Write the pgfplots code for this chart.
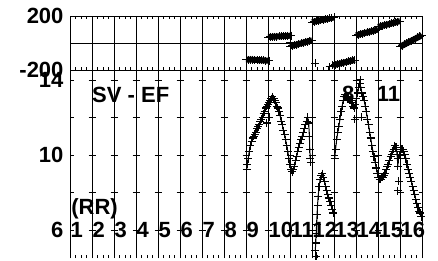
\documentclass[border=0pt]{standalone}
\usepackage{fontspec}
\setmainfont{Liberation Sans}
\usepackage{pgfplots}
\pgfplotsset{compat=1.18}
\newcommand{\bigf}{\bfseries\fontsize{22}{22}\selectfont}
\tikzset{
  curve/.style={black, line width=1pt, mark=+, mark size=4pt, mark options={line width=1.1pt, solid}},
  band/.style={black, line width=6pt, mark=+, mark size=4pt, mark options={line width=1pt, solid}},
}
\begin{document}
\begin{tikzpicture}[x=1pt,y=1pt]
\path[use as bounding box] (0,0) rectangle (438,260);
% ---------------- bottom panel ----------------
\begin{axis}[
  at={(70pt,2pt)}, anchor=south west, scale only axis,
  width=352pt, height=187.5pt,
  xmin=0, xmax=16, ymin=4.5, ymax=14.5,
  xtick={0,...,16}, xticklabels={}, minor x tick num=3,
  ytick={6,8,10,12,14}, yticklabels={6,,10,,14},
  xmajorgrids, ymajorgrids,
  major x grid style={black, line width=0.6pt},
  major y grid style={black, line width=0.6pt, dash pattern=on 7pt off 15pt, dash phase=3.5pt},
  axis line style={draw=none},
  xtick pos=lower, tick align=inside,
  x tick style={black, line width=0.5pt},
  y tick style={draw=none},
  major tick length=3pt, minor tick length=3pt,
  ticklabel style={font=\bigf},
  yticklabel style={xshift=-3pt},
  /pgf/number format/assume math mode=true,
  clip=false,
]
\addplot[curve] coordinates {
(8.03,9.2)(8.06,9.5)(8.1,9.8)(8.15,10.2)(8.2,10.5)(8.25,10.7)(8.3,10.9)(8.35,11.0)(8.4,11.1)(8.45,11.2)
(8.5,11.4)(8.55,11.5)(8.6,11.6)(8.65,11.8)(8.7,11.9)(8.75,12.0)(8.8,12.2)(8.85,12.3)(8.9,12.5)(8.95,12.6)
(9.0,12.7)(9.05,12.8)(9.1,12.9)(9.15,13.0)(9.2,13.1)(9.25,13.0)(9.3,12.9)(9.35,12.8)(9.4,12.6)(9.45,12.5)
(9.5,12.3)(9.55,12.1)(9.6,11.8)(9.65,11.6)(9.7,11.3)(9.75,11.1)(9.8,10.8)(9.85,10.5)(9.9,10.2)(9.95,9.8)
(10.0,9.5)(10.05,9.2)(10.1,9.1)(10.15,9.2)(10.2,9.4)(10.25,9.7)(10.3,9.9)(10.35,10.2)(10.4,10.4)(10.45,10.6)
(10.5,10.8)(10.55,11.0)(10.6,11.2)(10.65,11.4)(10.7,11.6)(10.75,11.8)(10.8,12.0)(10.85,11.7)(10.88,11.0)(10.9,10.3)(10.92,9.8)
};
\addplot[curve] coordinates {
(11.15,4.9)(11.17,5.3)(11.19,5.8)(11.21,6.3)(11.23,6.8)(11.25,7.3)(11.28,7.8)(11.32,8.3)(11.37,8.7)(11.42,8.9)
(11.47,9.0)(11.52,8.8)(11.57,8.6)(11.62,8.3)(11.67,8.1)(11.72,7.9)(11.77,7.7)(11.82,7.5)(11.87,7.3)(11.92,7.1)(11.97,6.9)
};
\addplot[curve] coordinates {
(12.03,9.8)(12.07,10.3)(12.12,10.8)(12.17,11.2)(12.22,11.5)(12.27,11.9)(12.32,12.3)(12.37,12.6)(12.42,12.9)(12.47,13.1)
(12.52,13.2)(12.57,13.1)(12.62,13.0)(12.67,13.0)(12.72,12.9)(12.77,12.9)(12.82,12.8)(12.87,12.6)(12.92,12.5)(12.97,12.7)
(13.02,13.0)(13.07,13.3)(13.12,13.6)(13.17,13.8)(13.22,13.6)(13.27,13.3)(13.32,13.1)(13.37,12.9)(13.42,12.6)(13.47,12.3)
(13.52,11.9)(13.57,11.6)(13.62,11.2)(13.67,10.9)(13.72,10.5)(13.77,10.2)(13.82,9.9)(13.87,9.6)(13.92,9.3)(13.97,9.0)
(14.02,8.8)(14.07,8.7)(14.12,8.7)(14.17,8.8)(14.22,8.8)(14.27,8.9)(14.32,9.0)(14.37,9.2)(14.42,9.4)(14.47,9.5)
(14.52,9.7)(14.57,9.9)(14.62,10.0)(14.67,10.2)(14.72,10.3)(14.77,10.5)(14.82,10.4)(14.87,10.0)(14.9,9.4)(14.93,9.8)
(14.97,10.0)(15.02,10.2)(15.07,10.3)(15.12,10.3)(15.17,10.2)(15.22,10.0)(15.27,9.8)(15.32,9.5)(15.37,9.2)(15.42,9.0)
(15.47,8.8)(15.52,8.6)(15.57,8.3)(15.62,8.1)(15.67,7.9)(15.72,7.6)(15.77,7.4)(15.82,7.2)(15.87,7.0)(15.92,6.9)(15.97,6.7)
};
\addplot[curve, only marks] coordinates {
(8.95,11.7)(9.05,12.0)(10.95,9.6)(12.95,11.9)(13.2,14.0)(14.9,8.1)(14.95,8.6)(11.18,4.6)(13.25,12.0)
};
\node[anchor=west, inner sep=0pt, xshift=0.5pt, font=\bigf] at (axis cs:0,6) {1};
\node[anchor=west, inner sep=0pt, xshift=0.5pt, font=\bigf] at (axis cs:1,6) {2};
\node[anchor=west, inner sep=0pt, xshift=0.5pt, font=\bigf] at (axis cs:2,6) {3};
\node[anchor=west, inner sep=0pt, xshift=0.5pt, font=\bigf] at (axis cs:3,6) {4};
\node[anchor=west, inner sep=0pt, xshift=0.5pt, font=\bigf] at (axis cs:4,6) {5};
\node[anchor=west, inner sep=0pt, xshift=0.5pt, font=\bigf] at (axis cs:5,6) {6};
\node[anchor=west, inner sep=0pt, xshift=0.5pt, font=\bigf] at (axis cs:6,6) {7};
\node[anchor=west, inner sep=0pt, xshift=0.5pt, font=\bigf] at (axis cs:7,6) {8};
\node[anchor=west, inner sep=0pt, xshift=0.5pt, font=\bigf] at (axis cs:8,6) {9};
\node[anchor=west, inner sep=0pt, xshift=0.5pt, font=\bigf] at (axis cs:9,6) {10};
\node[anchor=west, inner sep=0pt, xshift=0.5pt, font=\bigf] at (axis cs:10,6) {11};
\node[anchor=west, inner sep=0pt, xshift=0.5pt, font=\bigf] at (axis cs:11,6) {12};
\node[anchor=west, inner sep=0pt, xshift=0.5pt, font=\bigf] at (axis cs:12,6) {13};
\node[anchor=west, inner sep=0pt, xshift=0.5pt, font=\bigf] at (axis cs:13,6) {14};
\node[anchor=west, inner sep=0pt, xshift=0.5pt, font=\bigf] at (axis cs:14,6) {15};
\node[anchor=west, inner sep=0pt, xshift=0.5pt, font=\bigf] at (axis cs:15,6) {16};
\node[anchor=base west, inner sep=0pt, font=\bigf] at (axis cs:1.0,12.77) {SV - EF};
\node[anchor=base west, inner sep=0pt, font=\bigf] at (axis cs:0.05,6.8) {(RR)};
\node[anchor=base west, inner sep=0pt, font=\bigf] at (axis cs:12.36,12.83) {8};
\node[anchor=base west, inner sep=0pt, font=\bigf] at (axis cs:13.94,12.83) {11};
\end{axis}
% ---------------- top panel ----------------
\begin{axis}[
  at={(70pt,190pt)}, anchor=south west, scale only axis,
  width=352pt, height=54pt,
  xmin=0, xmax=16, ymin=-200, ymax=200,
  xtick={0,...,16}, xticklabels={}, minor x tick num=3,
  ytick={-200,0,200}, yticklabels={-200,,200},
  xmajorgrids, ymajorgrids,
  major x grid style={black, line width=0.6pt},
  major y grid style={black, line width=0.6pt},
  axis line style={black, line width=0.7pt},
  tick align=inside,
  x tick style={black, line width=0.5pt},
  y tick style={draw=none},
  major tick length=3pt, minor tick length=3pt,
  ticklabel style={font=\bigf},
  yticklabel style={xshift=-3pt},
  /pgf/number format/assume math mode=true,
]
\addplot[band] coordinates {
(8.0,-122)(8.1,-123)(8.2,-124)(8.3,-124)(8.4,-125)(8.5,-126)(8.6,-127)(8.7,-128)(8.8,-129)(8.9,-130)(9.0,-131)(9.05,-132)};
\addplot[band] coordinates {
(9.0,44)(9.1,45)(9.2,46)(9.3,47)(9.4,48)(9.5,49)(9.6,50)(9.7,51)(9.8,52)(9.9,53)(10.0,54)(10.05,54)};
\addplot[band] coordinates {
(10.0,-24)(10.1,-20)(10.2,-16)(10.3,-12)(10.4,-7)(10.5,-3)(10.6,2)(10.7,7)(10.8,11)(10.9,16)(11.0,20)};
\addplot[band] coordinates {
(11.0,155)(11.1,158)(11.2,162)(11.3,165)(11.4,169)(11.5,172)(11.6,176)(11.7,179)(11.8,183)(11.9,186)(12.0,190)};
\addplot[band] coordinates {
(11.95,-165)(12.05,-161)(12.15,-157)(12.25,-153)(12.35,-149)(12.45,-145)(12.55,-141)(12.65,-137)(12.75,-133)(12.85,-129)(12.95,-126)};
\addplot[band] coordinates {
(13.0,57)(13.1,61)(13.2,66)(13.3,70)(13.4,74)(13.5,78)(13.6,83)(13.7,87)(13.8,91)(13.9,96)(14.0,100)};
\addplot[band] coordinates {
(14.0,119)(14.1,123)(14.2,128)(14.3,132)(14.4,136)(14.5,140)(14.6,145)(14.7,149)(14.8,153)(14.9,158)(15.0,162)};
\addplot[band] coordinates {
(15.0,-28)(15.1,-19)(15.2,-11)(15.3,-2)(15.4,6)(15.5,15)(15.6,24)(15.7,32)(15.8,41)(15.9,49)(16.0,58)};
\addplot[band, only marks] coordinates {
(10.0,0)(11.15,-150)(11.8,-176)};
\end{axis}
\end{tikzpicture}
\end{document}
